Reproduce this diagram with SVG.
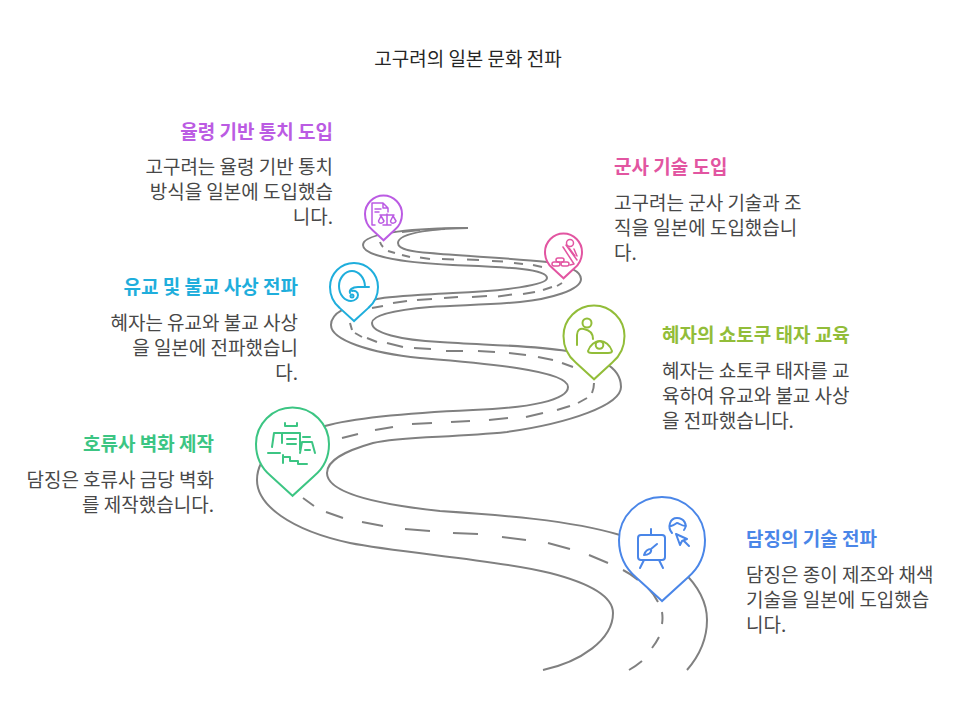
<svg xmlns="http://www.w3.org/2000/svg" width="972" height="719" viewBox="0 0 972 719">
<style>
text{font-family:"Noto Sans CJK KR","Noto Sans",sans-serif}
.t{font-size:19px;fill:#262626}
.h{font-size:19px;font-weight:700}
.b{font-size:19px;fill:#484848}
.e{text-anchor:end}
.road{fill:none;stroke:#808080;stroke-width:2}
.pin{fill:#fff;stroke-width:2}
.ic{fill:none;stroke-width:2;stroke-linecap:round;stroke-linejoin:round}
</style>
<defs><path id="p" vector-effect="non-scaling-stroke" d="M0 1.42L-.6 .87C-.85 .66-1 .36-1 0C-1-.55-.55-1 0-1C.55-1 1-.55 1 0C1 .36 .85 .66 .6 .87Z"/></defs>
<text class="t" x="468" y="65.500" text-anchor="middle">고구려의 일본 문화 전파</text>
<g id="connectors">
<path class="road" d="M468 228C440 228 398 232 398 243C398 250 415 252 430 253C460 256 510 258 547 262C565 265 581 270 581 279C581 290 550 299 520 302C490 305 460 305 430 307C395 310 372 315 372 323C372 333 400 340 440 342C480 345 530 345 567 351C595 356 621 365 621 387C621 405 570 423 507 432C450 438 400 436 373 443C345 451 327 460 327 473C327 490 365 503 440 511C500 515 570 520 620 535C670 552 707 585 707 620C707 640 700 655 687 670"/>
<path class="road" d="M468 228C420 228 363 232 363 245C363 255 395 262 453 265C500 267 547 268 547 278C547 285 505 291 453 293C420 295 390 296 377 299C355 303 331 310 331 325C331 340 370 353 420 358C480 363 568 370 568 387C568 400 530 408 473 410C430 412 360 416 325 426C290 435 257 450 257 480C257 505 290 530 350 543C400 553 500 560 550 573C585 582 613 595 613 613C613 640 580 662 543 670"/>
<path class="road" d="M402 232L420 230M428 229.500L445 229M380 242Q381 245 383 247M388 251L395 253M402 255L410 257M420 257.500L430 259M442 259L454 259.500M467 259.500L479 260M492 261L503 261.500M514 263L523 264M533 265L542 267M557 286L562 283M543 290L552 287M523 294L535 292M498 296.500L512 294.500M472 297L487 296M444 298L458 297M417 300L432 299M393 303L407 301M372 308L383 306M350 323L352 330M355 333L362 337M367 338L377 342M387 343L403 347M414 348L431 349M446 351L463 351M478 351L495 352M509 353L526 355M538 357L553 360M562 363L573 367M592 393Q594 388 594 383M578 403L587 398M557 410L570 406M526 417L543 413M489 420L508 418M451 422L470 421M412 424L432 423M375 430L393 427M342 438L358 434M303 498L314 506M326 512L343 518M362 522L383 526M405 529L430 531M453 533L478 534M502 537L526 540M548 543L570 549M589 555L608 563M623 570Q631 574 638 580M648 588Q654 594 658 602M662 612Q663 618 662 624M659 637Q656 643 652 648M642 661Q636 666 629 670"/>
</g>
<g id="node-yulryeong">
<use href="#p" class="pin" stroke="#BB5BE3" transform="translate(383.5 214) scale(18.5)"/>
<g class="ic" stroke="#BB5BE3" style="stroke-width:1.5"><path d="M375 225H372V203H383L388 208V212M383 203V208H388M375 209H381M375 212H379M387 214V225M380 215H394M383 225H391M381 216L378.500 221C379 224 383 224 384 221ZM393 216L390.500 221C391 224 395 224 396 221Z"/></g>
<text class="h e" x="333" y="138.500" fill="#BB5BE3">율령 기반 통치 도입</text>
<text class="b e" x="333" y="174">고구려는 율령 기반 통치</text>
<text class="b e" x="333" y="199">방식을 일본에 도입했습</text>
<text class="b e" x="333" y="224">니다.</text>
</g>
<g id="node-gunsa">
<use href="#p" class="pin" stroke="#E255A1" transform="translate(563.500 252) scale(18.500)"/>
<g class="ic" stroke="#E255A1" style="stroke-width:1.500"><circle cx="570" cy="243" r="3.500"/><path d="M563 247L574 264M566 245L577 260M569 248L575 256M574 249L577 256M574 264L570 265"/><rect x="552" y="262" width="8" height="4" rx="2"/><rect x="556" y="258" width="8" height="4" rx="2"/><rect x="561" y="262" width="8" height="4" rx="2"/></g>
<text class="h" x="614" y="174" fill="#E255A1">군사 기술 도입</text>
<text class="b" x="614" y="210">고구려는 군사 기술과 조</text>
<text class="b" x="614" y="235">직을 일본에 도입했습니</text>
<text class="b" x="614" y="259.500">다.</text>
</g>
<g id="node-yugyo">
<use href="#p" class="pin" stroke="#1FAEDC" transform="translate(354 287) scale(24)"/>
<g class="ic" stroke="#1FAEDC"><path d="M369 287H358C352 287 349 290 350 293M365 287C365 277 358 271 352 271C345 271 339 278 339 286C339 295 345 301 351 301C355 301 358 298 358 295C358 292 355 290 352 291"/><circle cx="352" cy="296" r="1.500"/></g>
<text class="h e" x="298" y="294" fill="#1FAEDC">유교 및 불교 사상 전파</text>
<text class="b e" x="298" y="330">혜자는 유교와 불교 사상</text>
<text class="b e" x="298" y="355">을 일본에 전파했습니</text>
<text class="b e" x="298" y="380">다.</text>
</g>
<g id="node-hyeja">
<use href="#p" class="pin" stroke="#92BD39" transform="translate(594 336) scale(30.500)"/>
<g class="ic" stroke="#92BD39"><circle cx="587" cy="323" r="4.500"/><path d="M577 345V335C577 330 580 328 584 329C589 330 593 333 593 339"/><path d="M588 351C590 345 595 341 600 341C605 341 610 345 612 351C612 353 610 353 608 353H592C590 353 588 353 588 351Z"/><circle cx="599.500" cy="345" r="3.800"/></g>
<text class="h" x="662" y="342" fill="#92BD39">혜자의 쇼토쿠 태자 교육</text>
<text class="b" x="662" y="378">혜자는 쇼토쿠 태자를 교</text>
<text class="b" x="662" y="403">육하여 유교와 불교 사상</text>
<text class="b" x="662" y="427.500">을 전파했습니다.</text>
</g>
<g id="node-horyusa">
<use href="#p" class="pin" stroke="#3CC583" transform="translate(292.500 444) scale(36.500)"/>
<g class="ic" stroke="#3CC583"><path d="M285 423V426H297V423M282 443V433H300V450M287 439H296M287 444H296M272 447L274 433H281M268 453H280M283 455V463M284 457H290V461H298V464H307M300 453L302 442H312L315 453M303 437H310M305 450H310"/></g>
<text class="h e" x="214" y="451" fill="#3CC583">호류사 벽화 제작</text>
<text class="b e" x="214" y="487">담징은 호류사 금당 벽화</text>
<text class="b e" x="214" y="511.500">를 제작했습니다.</text>
</g>
<g id="node-damjing">
<use href="#p" class="pin" stroke="#4A86E8" transform="translate(662 540) scale(43)"/>
<g class="ic" stroke="#4A86E8"><rect x="638" y="535" width="27" height="25" rx="3"/><path d="M651 529V535M644 560L640 568M659 560L663 568M657 544L651 549M651 549C647 549 645 552 644 555C648 555 652 553 651 549ZM672 533C667 527 670 518 677 518C684 518 688 525 684 530M671 526C675 525 676 523 677 523C679 523 681 526 686 526M676 534L687 539L682 541L680 545ZM684 541L689 546"/></g>
<text class="h" x="746" y="546" fill="#4A86E8">담징의 기술 전파</text>
<text class="b" x="746" y="582">담징은 종이 제조와 채색</text>
<text class="b" x="746" y="607">기술을 일본에 도입했습</text>
<text class="b" x="746" y="631.500">니다.</text>
</g>
</svg>
